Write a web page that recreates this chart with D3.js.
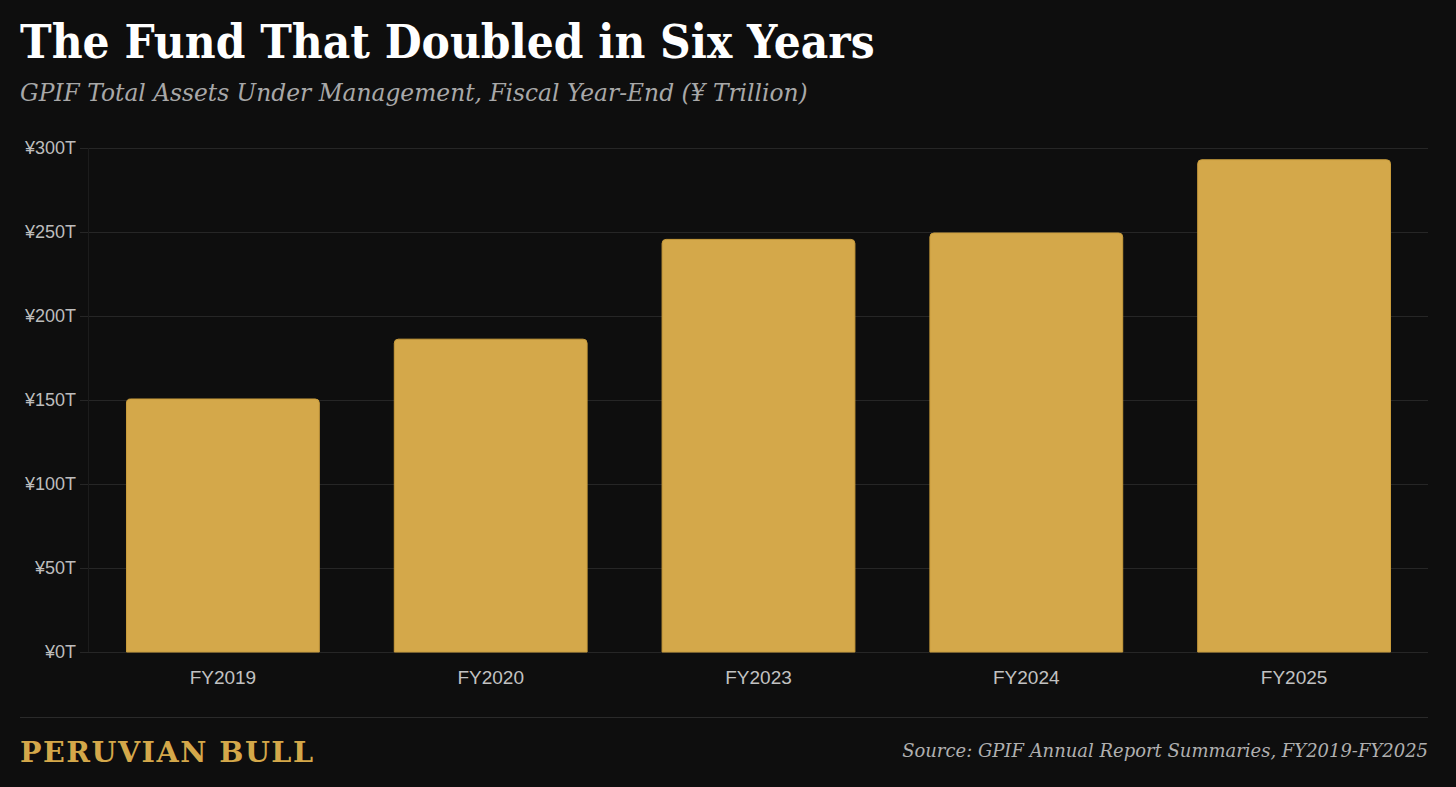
<!DOCTYPE html>
<html>
<head>
<meta charset="utf-8">
<script src="https://cdn.jsdelivr.net/npm/d3@7"></script>
<style>
  html, body { margin: 0; padding: 0; background: #0e0e0e; }
  svg { display: block; }
</style>
</head>
<body>
<svg id="chart"></svg>
<script>
const years = ["FY2019", "FY2020", "FY2023", "FY2024", "FY2025"];
const assets = [150.6, 186.2, 245.6, 249.4, 293.0];
const yTicks = [0, 50, 100, 150, 200, 250, 300];

const width = 1456, height = 787;
const svg = d3.select("#chart").attr("width", width).attr("height", height);

svg.append("rect").attr("width", width).attr("height", height).attr("fill", "#0e0e0e");

// fit a text to a target width by changing its font size
function fitWidth(sel, target) {
  const size = parseFloat(sel.attr("font-size"));
  const w = sel.node().getComputedTextLength();
  sel.attr("font-size", size * target / w);
}

const title = svg.append("text")
  .attr("x", 20).attr("y", 58)
  .attr("font-family", "DejaVu Serif, serif")
  .attr("font-weight", "bold")
  .attr("font-size", 40)
  .attr("fill", "#ffffff")
  .text("The Fund That Doubled in Six Years");
fitWidth(title, 855);
// Georgia is taller than DejaVu at the same width
title.attr("transform", "translate(0,58) scale(1,1.1) translate(0,-58)");

const subtitle = svg.append("text")
  .attr("x", 20).attr("y", 101)
  .attr("font-family", "DejaVu Serif, serif")
  .attr("font-style", "italic")
  .attr("font-size", 22)
  .attr("fill", "#a8a8a8")
  .text("GPIF Total Assets Under Management, Fiscal Year-End (¥ Trillion)");
fitWidth(subtitle, 788);

// plot area
const plotL = 89, plotR = 1428, plotT = 148, plotB = 652;

const x = d3.scaleBand().domain(years).range([plotL, plotR]).paddingInner(0.28).paddingOuter(0.14);
const y = d3.scaleLinear().domain([0, 300]).range([plotB, plotT]);

// grid
svg.append("g")
  .selectAll("line")
  .data(yTicks)
  .join("line")
  .attr("x1", plotL - 9).attr("x2", plotR)
  .attr("y1", d => y(d) + 0.5).attr("y2", d => y(d) + 0.5)
  .attr("stroke", "#262626")
  .attr("stroke-width", 1);

svg.append("line")
  .attr("x1", plotL - 0.5).attr("x2", plotL - 0.5)
  .attr("y1", plotT).attr("y2", plotB)
  .attr("stroke", "#1c1c1c");

// y axis labels
svg.append("g")
  .selectAll("text")
  .data(yTicks)
  .join("text")
  .attr("x", 76)
  .attr("y", d => y(d))
  .attr("dy", "0.36em")
  .attr("text-anchor", "end")
  .attr("font-family", "Liberation Sans, Arial, sans-serif")
  .attr("font-size", 18)
  .attr("fill", "#bdbdbd")
  .text(d => "¥" + d + "T");

// bars with rounded top corners
const r = 4;
svg.append("g")
  .selectAll("path")
  .data(years)
  .join("path")
  .attr("d", (d, i) => {
    const x0 = x(d), x1 = x(d) + x.bandwidth();
    const y0 = y(assets[i]), y1 = y(0);
    return `M${x0},${y1} L${x0},${y0 + r} Q${x0},${y0} ${x0 + r},${y0} L${x1 - r},${y0} Q${x1},${y0} ${x1},${y0 + r} L${x1},${y1} Z`;
  })
  .attr("fill", "#d4a84a")
  .attr("stroke", "#c99c3c")
  .attr("stroke-width", 1);

// x axis labels
svg.append("g")
  .selectAll("text")
  .data(years)
  .join("text")
  .attr("x", d => x(d) + x.bandwidth() / 2)
  .attr("y", 684)
  .attr("text-anchor", "middle")
  .attr("font-family", "Liberation Sans, Arial, sans-serif")
  .attr("font-size", 19)
  .attr("fill", "#c2c2c2")
  .text(d => d);

// footer
svg.append("line")
  .attr("x1", 20).attr("x2", 1428)
  .attr("y1", 717.5).attr("y2", 717.5)
  .attr("stroke", "#2a2a2a");

const brand = svg.append("text")
  .attr("x", 20).attr("y", 762)
  .attr("font-family", "DejaVu Serif, serif")
  .attr("font-weight", "bold")
  .attr("font-size", 28)
  .attr("letter-spacing", 1.5)
  .attr("fill", "#d4a84a")
  .text("PERUVIAN BULL");
fitWidth(brand, 295);

const source = svg.append("text")
  .attr("x", 1428).attr("y", 757)
  .attr("text-anchor", "end")
  .attr("font-family", "DejaVu Serif, serif")
  .attr("font-style", "italic")
  .attr("font-size", 17)
  .attr("fill", "#b0b0b0")
  .text("Source: GPIF Annual Report Summaries, FY2019-FY2025");
fitWidth(source, 526);
</script>
</body>
</html>
